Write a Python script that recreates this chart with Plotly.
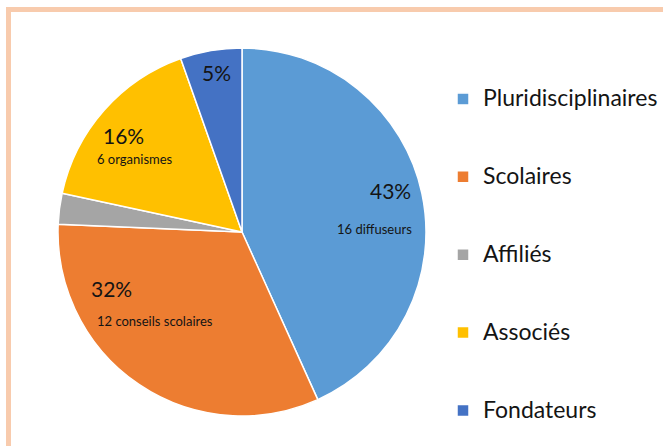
import math
import plotly.graph_objects as go

# ---- data ----
categories = ["Pluridisciplinaires", "Scolaires", "Affiliés", "Associés", "Fondateurs"]
counts = [16, 12, 1, 6, 2]
count_labels = ["16 diffuseurs", "12 conseils scolaires", "", "6 organismes", ""]
show_pct = [True, True, False, True, True]

# ---- style ----
colors = ["#5B9BD5", "#ED7D31", "#A5A5A5", "#FFC000", "#4472C4"]
W, H = 663, 446
CX, CY, R = 242, 232, 184          # pie centre / radius in px
# label placement (angle offset from slice mid-angle in degrees, radius fraction)
pct_place = [(-3.6, 0.836), (32.7, 0.774), (0, 0), (-2.2, 0.827), (0.7, 0.875)]
cnt_place = [(10.9, 0.723), (10.2, 0.677), (0, 0), (-7.1, 0.704), (0, 0)]
FONT = "Lato, 'Open Sans', sans-serif"
TXT = "#141414"
LEG_LINE_FONT = 19.2   # controls legend row spacing (3 lines per row)
LEG_TEXT_SIZE = 23

total = sum(counts)

# legend entries padded with blank lines (above) so rows are spread like the reference
legend_labels = [f" <br> <br><span style='font-size:{LEG_TEXT_SIZE}px'>{c}</span>" for c in categories]

fig = go.Figure(go.Pie(
    labels=legend_labels,
    values=counts,
    customdata=categories,
    hovertemplate="%{customdata}: %{value} (%{percent})<extra></extra>",
    marker=dict(colors=colors, line=dict(color="white", width=1.5)),
    sort=False,
    direction="clockwise",
    rotation=0,
    textinfo="none",
    domain=dict(x=[(CX - R) / W, (CX + R) / W],
                y=[1 - (CY + R) / H, 1 - (CY - R) / H]),
))

annotations = []
cum = 0
for i, v in enumerate(counts):
    mid = (cum + v / 2) / total * 360
    cum += v
    if show_pct[i]:
        da, fr = pct_place[i]
        a = math.radians(mid + da)
        px = CX + math.sin(a) * R * fr
        py = CY - math.cos(a) * R * fr
        annotations.append(dict(
            x=px / W, y=1 - py / H, xref="paper", yref="paper",
            text=f"{round(v / total * 100)}%", showarrow=False,
            font=dict(family=FONT, size=21, color=TXT),
            xanchor="center", yanchor="middle"))
    if count_labels[i]:
        da, fr = cnt_place[i]
        a = math.radians(mid + da)
        px = CX + math.sin(a) * R * fr
        py = CY - math.cos(a) * R * fr
        annotations.append(dict(
            x=px / W, y=1 - py / H, xref="paper", yref="paper",
            text=count_labels[i], showarrow=False,
            font=dict(family=FONT, size=13, color=TXT),
            xanchor="center", yanchor="middle"))

fig.update_layout(
    width=W, height=H,
    margin=dict(l=0, r=0, t=0, b=0),
    paper_bgcolor="white",
    plot_bgcolor="white",
    font=dict(family=FONT, color=TXT),
    showlegend=True,
    legend=dict(
        x=1, xanchor="right",
        y=1 - 30 / H, yanchor="top",
        valign="bottom",
        font=dict(family=FONT, size=LEG_LINE_FONT, color=TXT),
        bgcolor="rgba(0,0,0,0)",
        traceorder="normal",
    ),
    annotations=annotations,
    shapes=[dict(type="rect", xref="paper", yref="paper",
                 x0=8.5 / W, x1=1.05, y0=-0.05, y1=1 - 9.5 / H,
                 line=dict(color="#F8CBAD", width=5), fillcolor="rgba(0,0,0,0)",
                 layer="above")],
)

fig.write_html("out.html",
               config={"displayModeBar": False},
               post_script="document.body.style.margin='0';document.body.style.overflow='hidden';")
